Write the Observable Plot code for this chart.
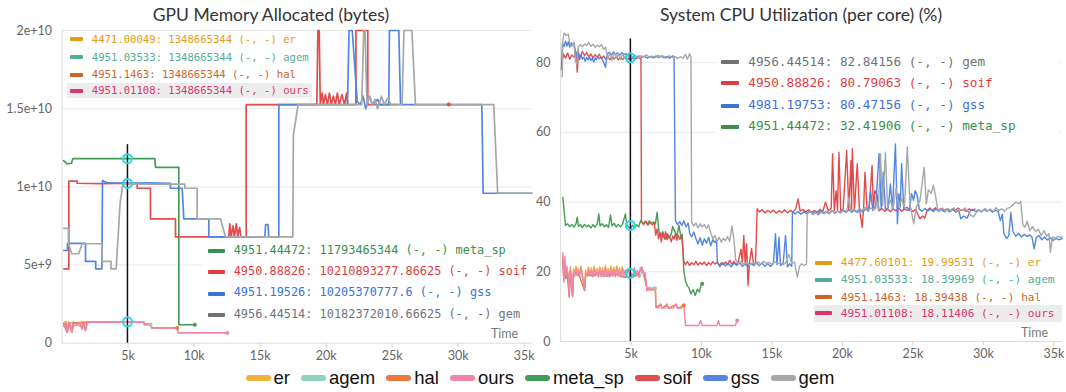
<!DOCTYPE html>
<html><head><meta charset="utf-8">
<script src="https://cdn.jsdelivr.net/npm/d3@7"></script>
<script src="https://cdn.jsdelivr.net/npm/@observablehq/plot@0.6"></script>
<style>
body{margin:0;background:#fff;}
#wrap{position:relative;width:1066px;height:392px;overflow:hidden;font-family:Lato,sans-serif;background:#fff;}
.title{position:absolute;top:3px;width:400px;text-align:center;font-size:17.5px;color:#333;line-height:24px;white-space:nowrap;}
.plot{position:absolute;top:24px;}
.box{position:absolute;background:#fff;}
.hl{position:absolute;background:#ececec;}
.row{position:absolute;font-family:"DejaVu Sans Mono",monospace;white-space:pre;line-height:1;}
.sw{position:absolute;height:4px;border-radius:1px;}
.time{position:absolute;font-size:12.5px;color:#777;}
#legend{position:absolute;left:7px;width:1066px;top:367px;height:22px;display:flex;justify-content:center;align-items:center;font-family:"Liberation Sans",Arial,sans-serif;font-size:18.5px;color:#111;}
#legend .it{display:flex;align-items:center;margin:0 5.5px;}
#legend .ls{width:25px;height:6px;border-radius:3px;margin-right:3px;}
</style></head>
<body>
<div id="wrap"></div>
<script>
// ---------- series names / colours ----------
const names = ["er","agem","hal","ours","meta_sp","soif","gss","gem"];
const lineColors = {er:"#f0b33a",agem:"#8dd3c0",hal:"#eb7a3c",ours:"#ef85aa",meta_sp:"#459c58",soif:"#e24c4c",gss:"#5486e0",gem:"#a5a8ab"};
const textColors = {er:"#e39b12",agem:"#52ad96",hal:"#cc6428",ours:"#d9366e",meta_sp:"#3b8f4e",soif:"#e03e3e",gss:"#3d72d9",gem:"#6f7378"};

// ---------- axes ----------
const xTicks = [5000,10000,15000,20000,25000,30000,35000];
const gpuTicks = [0,5e9,1e10,1.5e10,2e10];
const gpuTickLabels = ["0","5e+9","1e+10","1.5e+10","2e+10"];
const cpuTicks = [0,20,40,60,80];
const cpuTickLabels = ["0","20","40","60","80"];

// ---------- GPU memory (bytes) ----------
const gpu_er = [[130,1.3e9],[300,1.38e9],[386,0.75e9],[500,1.36e9],[742,0.8e9],[850,1.36e9],[1515,1.0e9],[1600,1.36e9],[1773,0.9e9],[1900,1.36e9],[4471,1.35e9]];
const gpu_agem = [[130,1.2e9],[386,0.72e9],[500,1.3e9],[2050,1.34e9],[6190,1.34e9],[6250,1.2e9],[6697,1.2e9]];
const gpu_hal = [[130,1.25e9],[386,0.7e9],[500,1.3e9],[742,0.72e9],[850,1.28e9],[2050,1.34e9],[6190,1.34e9],[6250,1.2e9],[6700,1.2e9],[6800,0.98e9],[8717,0.98e9]];
const gpu_ours = [[130,1.1e9],[250,1.34e9],[386,0.7e9],[450,1.2e9],[600,1.3e9],[742,0.75e9],[850,1.1e9],[1000,1.15e9],[1200,1.2e9],[1350,1.3e9],[1515,0.9e9],[1600,1.25e9],[1773,0.8e9],[1900,1.3e9],[2050,1.34e9],[6190,1.34e9],[6250,1.2e9],[6700,1.2e9],[6800,0.98e9],[8717,0.98e9],[8800,0.66e9],[12510,0.66e9]];
const gpu_meta_sp = [[106,1.168e10],[386,1.147e10],[712,1.151e10],[811,1.18e10],[7025,1.18e10],[7076,1.125e10],[8843,1.125e10],[8843,1.18e9],[10055,1.18e9]];
const gpu_soif = [[131,4.76e9],[511,4.76e9],[511,1.036e10],[1141,1.036e10],[1141,1.023e10],[3000,1.021e10],[5690,1.023e10],[5690,9.91e9],[6697,9.91e9],[6697,7.95e9],[8591,7.95e9],[8591,6.8e9],[12630,6.8e9],[12700,7.63e9],[12800,6.8e9],[12950,7.5e9],[13050,6.8e9],[13200,7.63e9],[13300,6.8e9],[13450,7.4e9],[13550,6.8e9],[13947,6.8e9],[13947,1.526e10],[19296,1.526e10],[19380,2.0e10],[19480,2.0e10],[19560,1.526e10],[19700,1.6e10],[19800,1.526e10],[19950,1.59e10],[20100,1.526e10],[20250,1.6e10],[20400,1.526e10],[20550,1.58e10],[20700,1.526e10],[20850,1.6e10],[21000,1.526e10],[21200,1.59e10],[21400,1.526e10],[21550,1.6e10],[21650,1.526e10],[22260,1.526e10],[22260,2.0e10],[23160,2.0e10],[23160,1.526e10],[25500,1.526e10]];
const gpu_soif_dot = [[29296,1.526e10]];
const gpu_gss = [[128,5.93e9],[410,5.93e9],[410,6.39e9],[1773,6.39e9],[1773,5.23e9],[2546,5.23e9],[2546,4.76e9],[3015,4.76e9],[3061,1.04e10],[3300,1.03e10],[3500,1.025e10],[5000,1.022e10],[6500,1.025e10],[8212,1.022e10],[8212,9.91e9],[9098,9.91e9],[9220,7.95e9],[11115,7.95e9],[11115,6.8e9],[15360,6.8e9],[15420,7.59e9],[15600,7.59e9],[15660,6.8e9],[16420,6.8e9],[16420,1.526e10],[21620,1.526e10],[21740,2.0e10],[21980,2.0e10],[22360,1.545e10],[22600,1.526e10],[22800,1.58e10],[23000,1.5e10],[23300,1.58e10],[23500,1.526e10],[23900,1.56e10],[24100,1.526e10],[24750,1.526e10],[24800,2.0e10],[25510,2.0e10],[25640,1.526e10],[31800,1.526e10],[31900,9.59e9],[35600,9.59e9]];
const gpu_gem = [[128,7.35e9],[485,7.35e9],[485,6.36e9],[742,5.72e9],[1259,5.72e9],[1515,6.36e9],[3015,6.36e9],[3015,5.23e9],[3706,5.23e9],[3706,4.76e9],[4093,4.76e9],[4400,9.0e9],[4609,1.02e10],[6000,1.018e10],[9300,1.018e10],[9300,9.91e9],[10235,9.91e9],[10235,7.95e9],[12000,7.95e9],[12380,6.8e9],[17480,6.8e9],[17520,1.33e10],[17880,1.526e10],[22700,1.526e10],[22850,2.0e10],[22950,2.0e10],[23100,1.526e10],[23300,1.58e10],[23500,1.526e10],[23700,1.56e10],[23900,1.5e10],[24200,1.58e10],[24400,1.526e10],[24700,1.57e10],[24900,1.526e10],[25760,1.526e10],[25900,2.0e10],[26500,2.0e10],[26770,1.526e10],[32700,1.526e10],[33000,9.59e9],[35600,9.59e9]];
const gpuCross = 4951;
const gpuCrossTop = 1.27e10;
const gpuHover = [[4951,1.18e10],[4951,1.022e10],[4951,1.37e9]];

// ---------- CPU utilisation (%) ----------
const cpu_er = [[156,24.5],[230,18.0],[300,21.5],[380,19.0],[450,20.8],[530,19.4],[610,13.5],[680,21.5],[760,19.0],[850,13.5],[920,20.8],[1000,19.2],[1100,21.6],[1180,19.0],[1260,21.0],[1350,19.2],[1450,21.6],[1550,19.0],[1700,15.0],[1780,20.5],[1880,19.0],[1980,21.4],[2080,19.1],[2180,21.2],[2280,19.0],[2380,21.6],[2480,19.2],[2580,21.0],[2680,19.0],[2780,21.5],[2880,19.2],[2980,21.3],[3080,19.0],[3180,21.8],[3280,19.3],[3380,21.0],[3480,19.0],[3580,21.6],[3680,19.2],[3780,21.4],[3880,19.0],[3980,21.7],[4080,19.2],[4180,21.2],[4280,19.1],[4380,21.5],[4478,20.0]];
const cpu_agem = [[156,22.5],[230,18.5],[300,20.0],[380,18.0],[450,20.5],[530,18.6],[610,13.0],[680,19.8],[760,18.4],[850,13.2],[920,19.6],[1100,20.4],[1350,18.5],[1550,18.6],[1700,14.8],[1780,19.2],[2100,18.8],[2500,19.4],[2900,18.6],[3300,19.5],[3700,18.7],[4100,19.6],[4500,18.6],[4951,18.4],[5300,19.2],[5650,18.6],[5790,20.8],[5950,18.5],[6140,15.0],[6400,15.4],[6700,15.3]];
const cpu_hal = [[156,23.5],[230,17.5],[300,21.0],[380,18.2],[450,20.0],[610,12.9],[680,20.0],[850,13.0],[920,19.8],[1300,19.0],[1700,14.7],[1780,19.4],[2300,18.8],[2800,19.6],[3300,18.7],[3800,19.5],[4300,18.6],[4951,18.39],[5400,19.0],[5790,21.0],[5950,18.6],[6140,14.8],[6730,14.8],[6760,9.9],[7100,10.6],[7200,9.6],[7550,10.6],[7650,9.6],[8200,10.6],[8300,9.6],[8740,10.3]];
const cpu_ours = [[156,25.5],[230,17.0],[300,24.5],[380,18.5],[450,21.5],[530,19.0],[610,12.7],[680,20.5],[760,18.8],[850,12.8],[920,20.0],[1000,18.6],[1100,21.0],[1180,18.9],[1260,20.2],[1350,18.7],[1450,21.0],[1550,18.8],[1700,14.6],[1780,19.6],[1880,18.7],[1980,20.8],[2080,18.9],[2180,20.3],[2280,18.6],[2380,21.1],[2480,18.8],[2580,20.0],[2680,18.5],[2780,20.9],[2880,18.7],[2980,20.4],[3080,18.6],[3180,21.2],[3280,18.8],[3380,20.1],[3480,18.5],[3580,21.0],[3680,18.9],[3780,20.5],[3880,18.6],[3980,21.1],[4080,18.8],[4180,20.2],[4280,18.6],[4380,20.9],[4480,18.7],[4580,20.4],[4680,18.5],[4800,21.0],[4951,18.11],[5050,19.6],[5150,18.6],[5250,21.2],[5350,18.7],[5450,20.5],[5550,18.4],[5650,21.1],[5790,21.3],[5900,18.6],[6000,19.8],[6140,14.6],[6300,15.6],[6450,14.8],[6600,15.5],[6730,14.6],[6760,9.8],[6950,9.6],[7100,10.8],[7200,9.5],[7450,9.7],[7550,10.8],[7650,9.5],[8000,9.6],[8200,10.8],[8300,9.5],[8600,9.6],[8740,10.8],[8860,4.6],[9800,4.6],[9930,6.0],[10050,4.6],[11100,4.6],[11200,6.0],[11300,4.6],[12400,4.6],[12530,6.0]];
const cpu_meta_sp = [[156,41.4],[348,33.3],[500,33.8],[650,32.9],[800,33.6],[950,32.8],[1100,33.9],[1180,35.7],[1260,33.0],[1400,33.5],[1550,32.7],[1700,33.6],[1850,32.9],[2000,33.4],[2150,32.6],[2300,33.5],[2450,32.8],[2600,33.7],[2710,36.6],[2800,33.1],[2950,33.8],[3100,32.9],[3250,33.5],[3400,32.7],[3540,36.3],[3650,33.2],[3800,33.9],[3950,32.8],[4100,33.6],[4250,32.9],[4400,33.7],[4600,36.6],[4700,33.3],[4850,32.8],[4951,32.42],[5100,33.4],[5250,32.6],[5400,33.5],[5550,32.9],[5670,34.7],[5850,33.8],[6000,34.5],[6150,33.7],[6300,34.6],[6450,33.9],[6600,34.3],[6730,33.8],[6850,37.1],[6970,31.8],[7100,30.2],[7250,31.5],[7400,29.3],[7550,31.0],[7700,29.6],[7850,30.8],[7950,33.0],[8100,31.6],[8250,30.2],[8400,33.3],[8550,29.5],[8630,30.8],[8740,20.4],[8850,17.5],[8980,16.1],[9100,15.4],[9250,13.6],[9400,14.9],[9550,13.2],[9700,15.0],[9850,14.2],[9950,15.8],[10050,16.6]];
const cpu_soif = [[120,80.5],[200,82.5],[350,81.3],[500,82.8],[650,81.0],[800,82.2],[950,81.6],[1100,83.0],[1180,77.3],[1260,82.6],[1400,81.8],[1550,83.2],[1700,82.0],[1850,82.9],[2000,81.7],[2150,82.5],[2300,81.4],[2450,82.3],[2600,81.6],[2750,82.4],[2900,81.2],[3050,81.9],[3200,81.0],[3350,81.7],[3500,80.9],[3650,81.6],[3800,81.1],[3950,81.8],[4100,80.8],[4250,81.5],[4400,80.9],[4550,81.6],[4700,81.2],[4850,81.0],[4951,80.79],[5100,81.4],[5300,81.0],[5500,81.5],[5700,81.1],[5740,34.2],[5900,33.6],[6050,34.5],[6200,33.4],[6350,34.2],[6500,33.5],[6650,34.0],[6750,30.5],[6850,32.3],[6950,29.5],[7050,31.4],[7150,28.6],[7250,30.9],[7350,29.8],[7450,31.5],[7550,29.2],[7650,30.6],[7750,29.7],[7850,28.6],[7950,30.3],[8050,29.4],[8150,31.0],[8250,29.0],[8350,30.5],[8450,29.3],[8600,30.2],[8740,23.2],[8850,22.0],[9000,22.9],[9150,21.8],[9300,22.6],[9450,22.0],[9600,23.0],[9750,21.9],[9900,22.7],[10050,22.1],[10200,22.8],[10350,21.8],[10500,22.6],[10650,22.0],[10800,22.9],[10950,22.2],[11100,22.7],[11250,21.9],[11400,22.5],[11550,22.0],[11700,22.8],[11850,22.1],[12000,23.3],[12150,22.2],[12300,23.0],[12450,22.1],[12600,22.7],[12800,26.5],[12900,22.4],[13000,30.4],[13100,22.0],[13200,28.0],[13300,16.1],[13400,22.5],[13550,26.7],[13700,21.8],[13830,22.4],[13950,38.1],[14100,37.2],[14300,37.8],[14500,36.9],[14700,37.6],[14900,37.0],[15100,37.7],[15300,36.8],[15500,37.5],[15700,37.0],[15900,37.8],[16100,36.9],[16300,37.6],[16500,37.1],[16700,38.2],[16850,40.9],[17000,37.4],[17200,37.9],[17400,37.2],[17600,37.8],[17800,37.0],[18000,37.6],[18200,37.1],[18400,37.9],[18600,37.3],[18800,40.0],[19000,37.5],[19200,38.2],[19300,53.9],[19420,37.6],[19550,43.3],[19650,37.8],[19750,54.3],[19880,37.4],[20050,38.0],[20300,54.8],[20450,37.7],[20600,51.9],[20650,38.0],[20700,55.3],[20850,37.6],[21050,51.0],[21200,38.2],[21400,32.8],[21500,38.0],[21600,48.6],[21750,37.6],[21900,38.3],[22100,50.5],[22200,37.9],[22300,43.3],[22450,42.2],[22600,37.5],[22800,38.2],[23000,37.4],[23200,38.0],[23400,37.2],[23600,38.1],[23800,37.5],[24000,38.3],[24200,37.4],[24400,38.0],[24600,37.6],[24800,38.2],[25000,37.3],[25200,37.9],[25500,35.2],[25700,36.0],[25850,35.4],[26000,37.5],[26200,38.3],[26400,37.6],[26600,38.4],[26800,37.5],[27000,38.2],[27200,37.4],[27400,38.0],[27600,37.2],[27800,38.1],[28000,37.5],[28200,38.3],[28400,37.6],[28600,37.9],[28800,37.3],[29000,38.1],[29200,37.6],[29400,38.0]];
const cpu_gss = [[60,78],[130,85.6],[250,84.6],[350,86.2],[450,84.8],[550,86.0],[650,84.5],[750,85.7],[850,84.9],[950,85.8],[1050,83.2],[1150,81.4],[1250,83.6],[1350,80.8],[1450,82.2],[1550,81.0],[1650,81.6],[1750,80.4],[1850,81.5],[1950,80.8],[2050,81.7],[2150,80.6],[2250,81.3],[2350,80.2],[2450,81.4],[2550,80.9],[2650,81.8],[2750,81.1],[2850,81.5],[3000,80.6],[3190,78.7],[3300,82.4],[3450,83.0],[3600,82.2],[3750,83.1],[3900,82.4],[4050,82.8],[4200,82.1],[4350,82.9],[4500,82.3],[4650,82.6],[4800,81.9],[4981,80.47],[5150,81.8],[5350,81.4],[5550,82.0],[5750,81.5],[5950,81.9],[6150,81.3],[6350,81.8],[6550,81.4],[6750,81.9],[6950,81.5],[7150,82.0],[7350,81.4],[7550,81.8],[7750,81.3],[7950,82.0],[8050,81.6],[8150,34.7],[8300,33.5],[8450,34.4],[8600,33.3],[8750,34.6],[8900,32.9],[9050,34.0],[9150,31.2],[9300,30.0],[9450,31.4],[9600,29.6],[9750,28.0],[9900,29.8],[10050,27.6],[10200,29.5],[10350,28.2],[10500,29.9],[10650,27.5],[10800,29.2],[10950,28.4],[11070,29.0],[11120,22.8],[11300,21.5],[11500,22.6],[11700,21.7],[11900,22.4],[12100,21.4],[12300,22.5],[12500,21.8],[12700,22.6],[12900,21.6],[13100,22.3],[13300,21.5],[13500,22.4],[13700,21.8],[13900,22.6],[14100,21.7],[14300,22.5],[14500,21.6],[14700,22.3],[14900,21.5],[15100,22.4],[15250,30.9],[15350,22.0],[15500,29.9],[15600,21.8],[15800,22.6],[15960,30.4],[16100,21.4],[16250,22.3],[16400,21.6],[16450,37.1],[16650,36.6],[16850,37.3],[17050,36.5],[17250,37.2],[17450,36.7],[17650,37.4],[17850,36.8],[18050,37.2],[18250,36.6],[18450,37.5],[18650,36.9],[18850,37.3],[19050,36.7],[19250,37.6],[19450,36.8],[19650,37.4],[19850,36.9],[20050,37.6],[20250,37.0],[20450,37.8],[20650,37.1],[20850,37.6],[21050,37.0],[21250,37.8],[21450,37.2],[21650,38.0],[21850,37.4],[22000,43.3],[22150,37.6],[22350,38.3],[22600,53.9],[22750,38.0],[22900,48.6],[23050,37.8],[23250,38.4],[23400,45.2],[23550,38.0],[23760,56.7],[23900,33.8],[24000,42.4],[24100,38.6],[24200,51.0],[24350,38.2],[24600,38.5],[24750,37.6],[24900,42.4],[25050,40.5],[25150,43.3],[25300,42.0],[25450,38.0],[25650,37.4],[25850,38.2],[26050,37.5],[26250,38.0],[26450,37.3],[26650,38.1],[26850,37.4],[27050,37.9],[27250,37.2],[27450,38.0],[27650,37.3],[27850,37.8],[28050,37.1],[28250,37.7],[28400,35.2],[28600,36.0],[28850,35.4],[29050,37.4],[29250,37.9],[29450,37.3],[29650,37.8],[29850,37.2],[30050,37.9],[30250,37.4],[30450,37.8],[30650,37.1],[30850,37.7],[31050,37.3],[31200,34.7],[31350,36.5],[31450,31.0],[31650,29.5],[31800,30.4],[31950,37.0],[32100,31.5],[32300,30.2],[32500,31.0],[32700,30.0],[32900,30.8],[33100,30.1],[33300,30.6],[33450,29.9],[33600,26.6],[33750,29.8],[33950,30.4],[34150,29.2],[34350,30.0],[34550,29.1],[34750,29.8],[34950,29.0],[35150,29.6],[35350,29.2],[35600,29.5]];
const cpu_gem = [[120,76],[150,86],[250,88.5],[400,87.8],[550,88.2],[650,85.5],[800,84.8],[950,85.6],[1050,80.5],[1150,79.5],[1250,84.5],[1400,85.2],[1550,84.6],[1700,85.4],[1850,84.9],[2000,85.8],[2150,84.7],[2300,85.3],[2450,84.4],[2600,85.1],[2750,84.6],[2900,85.2],[3050,83.8],[3200,84.5],[3350,81.2],[3500,82.8],[3650,80.7],[3800,83.1],[3950,81.5],[4100,82.6],[4250,80.9],[4400,82.4],[4550,81.3],[4700,82.2],[4850,81.6],[4956,82.84],[5100,81.5],[5300,82.1],[5500,81.4],[5700,82.0],[5900,81.6],[6100,82.3],[6300,81.5],[6500,81.9],[6700,81.4],[6900,82.1],[7100,81.6],[7300,81.9],[7500,81.3],[7700,82.0],[7900,81.5],[8100,81.8],[8300,81.2],[8500,81.7],[8700,81.3],[8850,82.4],[9000,81.0],[9150,82.6],[9250,81.6],[9300,34.2],[9450,33.1],[9600,34.0],[9750,32.6],[9900,33.8],[10050,32.9],[10200,33.6],[10350,32.4],[10500,33.5],[10650,31.2],[10800,29.5],[10950,30.4],[11100,28.8],[11250,29.9],[11400,28.6],[11550,29.6],[11700,28.9],[11850,30.1],[12000,28.7],[12150,33.2],[12300,29.3],[12420,23.5],[12600,22.3],[12800,23.1],[13000,22.0],[13200,22.8],[13400,21.9],[13600,22.6],[13800,22.1],[14000,22.9],[14200,22.2],[14400,23.0],[14600,22.4],[14800,22.7],[15000,22.1],[15200,22.9],[15400,22.3],[15600,22.6],[15800,22.0],[16000,22.7],[16200,25.0],[16400,22.4],[16600,22.8],[16800,18.5],[16950,21.5],[17100,22.3],[17300,21.8],[17450,22.2],[17500,36.6],[17700,37.2],[17900,36.4],[18100,37.0],[18300,36.3],[18500,37.1],[18700,36.6],[18900,37.4],[19100,36.8],[19300,37.6],[19500,36.9],[19700,37.5],[19900,37.0],[20100,37.8],[20300,37.2],[20450,41.4],[20600,37.4],[20800,38.0],[21000,37.3],[21200,38.2],[21400,37.6],[21600,38.5],[21800,37.4],[22000,38.3],[22200,37.8],[22400,39.5],[22550,38.0],[22700,53.9],[22850,39.0],[23050,54.3],[23200,38.5],[23400,40.5],[23600,38.2],[23800,44.0],[24000,38.6],[24200,41.0],[24400,38.4],[24600,55.8],[24800,39.0],[25060,33.8],[25250,38.7],[25500,40.5],[25800,50.0],[25950,39.5],[26100,43.5],[26300,42.5],[26450,44.8],[26600,41.9],[26750,38.0],[26900,37.6],[27100,38.3],[27300,37.4],[27500,38.1],[27700,37.5],[27900,38.4],[28100,37.2],[28300,38.0],[28500,37.6],[28700,38.3],[28900,37.4],[29100,36.2],[29300,35.8],[29500,37.0],[29700,37.8],[29900,37.2],[30100,38.2],[30300,37.5],[30500,38.0],[30700,37.3],[30900,38.4],[31100,37.6],[31300,38.1],[31500,37.4],[31700,38.2],[31900,38.5],[32100,39.2],[32300,40.0],[32500,39.6],[32650,40.2],[32800,33.5],[32950,32.8],[33100,34.5],[33300,31.8],[33500,33.0],[33700,31.5],[33900,32.2],[34100,30.4],[34300,31.8],[34500,30.2],[34650,31.0],[34760,25.6],[34900,30.0],[35100,29.6],[35300,30.2],[35500,29.8],[35600,30.1]];
const cpuCross = 4951;
const cpuCrossTop = 86.8;
const cpuHover = [[4951,81.4],[4951,33.3],[4951,19.6]];

// ---------- hover tooltip rows [series, step, value] ----------
const gpuTopRows = [["er","4471.00049","1348665344"],["agem","4951.03533","1348665344"],["hal","4951.1463","1348665344"],["ours","4951.01108","1348665344"]];
const gpuBotRows = [["meta_sp","4951.44472","11793465344"],["soif","4950.88826","10210893277.86625"],["gss","4951.19526","10205370777.6"],["gem","4956.44514","10182372010.66625"]];
const cpuTopRows = [["gem","4956.44514","82.84156"],["soif","4950.88826","80.79063"],["gss","4981.19753","80.47156"],["meta_sp","4951.44472","32.41906"]];
const cpuBotRows = [["er","4477.60101","19.99531"],["agem","4951.03533","18.39969"],["hal","4951.1463","18.39438"],["ours","4951.01108","18.11406"]];

// ---------- build ----------
const wrap = document.getElementById("wrap");
const drawOrder = ["meta_sp","soif","gss","gem","er","agem","hal","ours"];
const gpuSeries = {er:gpu_er,agem:gpu_agem,hal:gpu_hal,ours:gpu_ours,meta_sp:gpu_meta_sp,soif:gpu_soif,gss:gpu_gss,gem:gpu_gem};
const cpuSeries = {er:cpu_er,agem:cpu_agem,hal:cpu_hal,ours:cpu_ours,meta_sp:cpu_meta_sp,soif:cpu_soif,gss:cpu_gss,gem:cpu_gem};
const endDotNames = ["meta_sp","agem","hal","ours"];

function panel({series, yDomain, yTicks, yLabels, ml, mr, mb, cross, crossTop, hover, extraDots, sw}) {
  const lab = new Map(yTicks.map((t,i)=>[t,yLabels[i]]));
  const marks = [
    Plot.gridY(yTicks.filter(t=>t>0), {stroke:"#e9e9e9", strokeOpacity:1}),
    Plot.ruleX([0], {stroke:"#dcdcdc"}),
    Plot.ruleY([0], {stroke:"#dcdcdc"}),
    Plot.axisX(xTicks, {tickFormat:d=>d/1000+"k", stroke:"#d5d5d5", tickSize:5, tickPadding:3, label:null}),
    Plot.axisY(yTicks, {tickFormat:d=>lab.get(d), tickSize:0, tickPadding:10, label:null}),
  ];
  for (const n of drawOrder) {
    marks.push(Plot.line(series[n], {x:d=>d[0], y:d=>d[1], stroke:lineColors[n], strokeWidth:sw}));
  }
  for (const n of endDotNames) {
    const s = series[n];
    marks.push(Plot.dot([s[s.length-1]], {x:d=>d[0], y:d=>d[1], r:2, fill:lineColors[n]}));
  }
  if (extraDots) marks.push(Plot.dot(extraDots.data, {x:d=>d[0], y:d=>d[1], r:2, fill:extraDots.color}));
  marks.push(Plot.ruleX([cross], {y1:0, y2:crossTop, stroke:"#111", strokeWidth:1.5}));
  marks.push(Plot.dot(hover, {x:d=>d[0], y:d=>d[1], r:4.5, stroke:"#1fd8ea", strokeWidth:2, fill:"none"}));
  return Plot.plot({
    width:533, height:342, marginLeft:ml, marginRight:mr, marginTop:6, marginBottom:mb,
    style:{background:"transparent", color:"#666", fontSize:"12.5px", fontFamily:"Lato, sans-serif", overflow:"visible"},
    x:{domain:[0,35600]}, y:{domain:yDomain},
    marks
  });
}

const left = panel({series:gpuSeries, yDomain:[0,2e10], yTicks:gpuTicks, yLabels:gpuTickLabels, ml:61.6, mr:1.5, mb:23.3, cross:gpuCross, crossTop:gpuCrossTop, hover:gpuHover, extraDots:{data:gpu_soif_dot,color:lineColors.soif}, sw:1.7});
left.classList.add("plot"); left.style.left="0px";
wrap.appendChild(left);
const right = panel({series:cpuSeries, yDomain:[0,89.24], yTicks:cpuTicks, yLabels:cpuTickLabels, ml:27.1, mr:4.2, mb:25, cross:cpuCross, crossTop:cpuCrossTop, hover:cpuHover, extraDots:null, sw:1.4});
right.classList.add("plot"); right.style.left="533px";
wrap.appendChild(right);

function el(cls, css, html) {
  const d = document.createElement("div"); d.className = cls;
  Object.assign(d.style, css); if (html !== undefined) d.textContent = html;
  wrap.appendChild(d); return d;
}
// titles
el("title", {left:(271-200)+"px"}, "GPU Memory Allocated (bytes)");
el("title", {left:(801-200)+"px"}, "System CPU Utilization (per core) (%)");

function tooltip(rows, {ys, sx0, sx1, tx, fs, box, hl}) {
  if (box) el("box", {left:box[0]+"px", top:box[1]+"px", width:(box[2]-box[0])+"px", height:(box[3]-box[1])+"px"});
  if (hl) el("hl", {left:hl[0]+"px", top:hl[1]+"px", width:(hl[2]-hl[0])+"px", height:(hl[3]-hl[1])+"px"});
  rows.forEach(([n, step, val], i) => {
    const y = ys[i];
    el("sw", {left:sx0+"px", width:(sx1-sx0)+"px", top:(y-2)+"px", background:textColors[n]});
    const t = el("row", {left:tx+"px", top:(y - fs*0.52)+"px", fontSize:fs+"px", color:textColors[n]}, `${step}: ${val} (-, -) ${n}`);
  });
}
tooltip(gpuTopRows, {ys:[39.3,57.3,74.7,90.7], sx0:69.7, sx1:83.3, tx:91.8, fs:10.6, hl:[67.3,82.7,312.2,98.3]});
tooltip(gpuBotRows, {ys:[251,272,293.5,315], sx0:207.5, sx1:224.5, tx:233.7, fs:11.9, box:[203,243,531,326]});
tooltip(cpuTopRows, {ys:[62.3,83.3,106,127], sx0:720.8, sx1:738.8, tx:748.3, fs:12.7, box:[716,50,1060,138]});
tooltip(cpuBotRows, {ys:[262.7,280,297.3,313.3], sx0:815.3, sx1:832.3, tx:840.8, fs:11.1, box:[812,253,1062,323], hl:[813.6,305,1061.9,321.7]});

el("time", {left:"491px", top:"326px"}, "Time");
el("time", {left:"1021px", top:"325px"}, "Time");

// legend
const lg = el("", {}, undefined); lg.id = "legend";
for (const n of names) {
  const it = document.createElement("div"); it.className = "it";
  const s = document.createElement("div"); s.className = "ls"; s.style.background = lineColors[n];
  const t = document.createElement("span"); t.textContent = n;
  it.appendChild(s); it.appendChild(t); lg.appendChild(it);
}
</script>
</body></html>
